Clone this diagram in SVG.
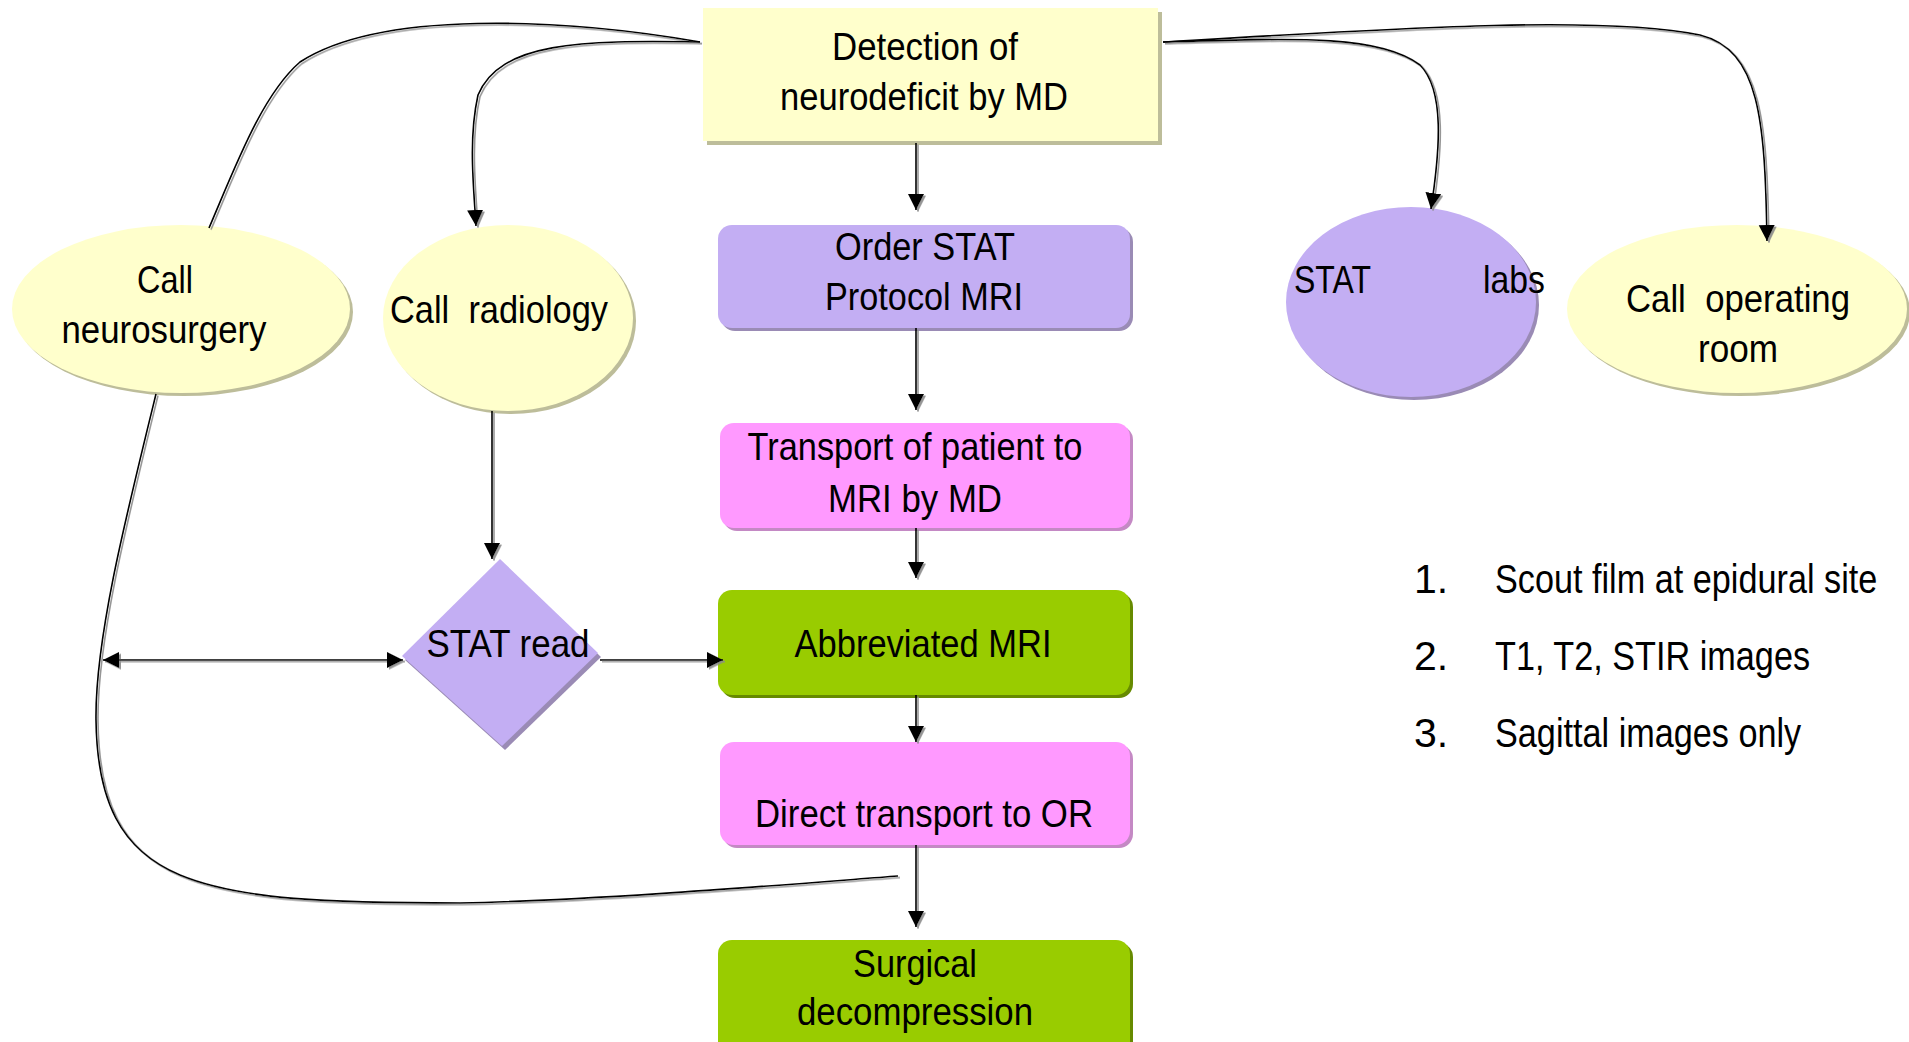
<svg xmlns="http://www.w3.org/2000/svg" width="1909" height="1042" viewBox="0 0 1909 1042">
<style>
text{font-family:"Liberation Sans Narrow","Liberation Sans",Arial,sans-serif;font-size:39px;fill:#000}
.lst text{font-size:41px}
.yel{fill:#FFFFCC}.yel-s{fill:#BDBD9A}
.pur{fill:#C3AEF3}.pur-s{fill:#9A8BB5}
.pnk{fill:#FF99FF}.pnk-s{fill:#C489C4}
.grn{fill:#99CC00}.grn-s{fill:#668A00}
.con path{fill:none;stroke:#000;stroke-width:1.6}
</style>
<defs>
<marker id="ah" markerUnits="userSpaceOnUse" markerWidth="18" markerHeight="18" refX="16" refY="8" orient="auto-start-reverse">
<path d="M0,0 L16,8 L0,16 z" fill="#000"/>
</marker>
<filter id="lsh" x="-5%" y="-5%" width="110%" height="110%">
<feDropShadow dx="2" dy="1.6" stdDeviation="0.5" flood-color="#8a8a8a" flood-opacity="0.9"/>
</filter>
</defs>
<rect width="1909" height="1042" fill="#fff"/>

<g id="n-detection">
<rect class="yel-s" x="707" y="12" width="455" height="133"/>
<rect class="yel" x="703" y="8" width="455" height="133"/>
<text x="925" y="60" text-anchor="middle" textLength="186" lengthAdjust="spacingAndGlyphs">Detection of</text>
<text x="924" y="110" text-anchor="middle" textLength="288" lengthAdjust="spacingAndGlyphs">neurodeficit by MD</text>
</g>

<g id="n-neurosurgery">
<ellipse class="yel-s" cx="184" cy="312" rx="169" ry="84"/>
<ellipse class="yel" cx="181" cy="309" rx="169" ry="84"/>
<text x="165" y="293" text-anchor="middle" textLength="56" lengthAdjust="spacingAndGlyphs">Call</text>
<text x="164" y="343" text-anchor="middle" textLength="205" lengthAdjust="spacingAndGlyphs">neurosurgery</text>
</g>

<g id="n-radiology">
<ellipse class="yel-s" cx="511" cy="321" rx="125" ry="93"/>
<ellipse class="yel" cx="508" cy="318" rx="125" ry="93"/>
<text x="499" y="323" text-anchor="middle" xml:space="preserve" textLength="218" lengthAdjust="spacingAndGlyphs">Call  radiology</text>
</g>

<g id="n-statlabs">
<ellipse class="pur-s" cx="1414" cy="305" rx="125" ry="95"/>
<ellipse class="pur" cx="1411" cy="302" rx="125" ry="95"/>
<text y="293"><tspan x="1294" textLength="77" lengthAdjust="spacingAndGlyphs">STAT</tspan><tspan x="1483" textLength="62" lengthAdjust="spacingAndGlyphs">labs</tspan></text>
</g>

<g id="n-operating">
<ellipse class="yel-s" cx="1740" cy="312" rx="170" ry="84"/>
<ellipse class="yel" cx="1737" cy="309" rx="170" ry="84"/>
<text x="1738" y="312" text-anchor="middle" xml:space="preserve" textLength="224" lengthAdjust="spacingAndGlyphs">Call  operating</text>
<text x="1738" y="362" text-anchor="middle" textLength="80" lengthAdjust="spacingAndGlyphs">room</text>
</g>

<g id="n-order">
<rect class="pur-s" x="721" y="228" width="412" height="103" rx="14"/>
<rect class="pur" x="718" y="225" width="412" height="103" rx="14"/>
<text x="925" y="260" text-anchor="middle" textLength="180" lengthAdjust="spacingAndGlyphs">Order STAT</text>
<text x="924" y="310" text-anchor="middle" textLength="198" lengthAdjust="spacingAndGlyphs">Protocol MRI</text>
</g>

<g id="n-transport">
<rect class="pnk-s" x="723" y="426" width="410" height="105" rx="14"/>
<rect class="pnk" x="720" y="423" width="410" height="105" rx="14"/>
<text x="915" y="460" text-anchor="middle" textLength="335" lengthAdjust="spacingAndGlyphs">Transport of patient to</text>
<text x="915" y="512" text-anchor="middle" textLength="174" lengthAdjust="spacingAndGlyphs">MRI by MD</text>
</g>

<g id="n-statread">
<polygon class="pur-s" points="503,563 601,657 505,750 405,660"/>
<polygon class="pur" points="500,559 598,653 502,746 402,656"/>
<text x="508" y="657" text-anchor="middle" textLength="163" lengthAdjust="spacingAndGlyphs">STAT read</text>
</g>

<g id="n-abbreviated">
<rect class="grn-s" x="721" y="593" width="412" height="105" rx="14"/>
<rect class="grn" x="718" y="590" width="412" height="105" rx="14"/>
<text x="923" y="657" text-anchor="middle" textLength="257" lengthAdjust="spacingAndGlyphs">Abbreviated MRI</text>
</g>

<g id="n-direct">
<rect class="pnk-s" x="723" y="745" width="410" height="103" rx="14"/>
<rect class="pnk" x="720" y="742" width="410" height="103" rx="14"/>
<text x="924" y="827" text-anchor="middle" textLength="338" lengthAdjust="spacingAndGlyphs">Direct transport to OR</text>
</g>

<g id="n-surgical">
<rect class="grn-s" x="721" y="943" width="412" height="130" rx="14"/>
<rect class="grn" x="718" y="940" width="412" height="130" rx="14"/>
<text x="915" y="977" text-anchor="middle" textLength="124" lengthAdjust="spacingAndGlyphs">Surgical</text>
<text x="915" y="1025" text-anchor="middle" textLength="236" lengthAdjust="spacingAndGlyphs">decompression</text>
</g>

<g id="list" class="lst">
<text x="1414" y="593">1.</text>
<text transform="translate(1495,593) scale(0.835,1)">Scout film at epidural site</text>
<text x="1414" y="670">2.</text>
<text transform="translate(1495,670) scale(0.835,1)">T1, T2, STIR images</text>
<text x="1414" y="747">3.</text>
<text transform="translate(1495,747) scale(0.835,1)">Sagittal images only</text>
</g>

<g id="connectors" class="con" filter="url(#lsh)">
<path id="c-det-neuro" d="M700,42 C560,18 380,10 300,62 C262,95 236,165 209,228"/>
<path id="c-det-rad" d="M700,42 C580,40 500,42 478,95 C468,140 474,190 476,226" marker-end="url(#ah)"/>
<path id="c-det-labs" d="M1163,42 C1300,38 1380,35 1420,65 C1445,90 1440,150 1431,209" marker-end="url(#ah)"/>
<path id="c-det-or" d="M1163,42 C1400,28 1600,15 1700,35 C1760,50 1765,120 1767,241" marker-end="url(#ah)"/>
<path id="c-neuro-loop" d="M156,394 C125,520 95,640 96,720 C97,800 120,850 180,875 C240,900 330,903 460,903 C600,900 780,885 898,876"/>
<path id="c-loop-read" d="M103,660 L403,660" marker-start="url(#ah)" marker-end="url(#ah)"/>
<path id="c-read-abbr" d="M600,660 L723,660" marker-end="url(#ah)"/>
<path id="c-rad-read" d="M492,411 L492,559" marker-end="url(#ah)"/>
<path id="c-det-order" d="M916,143 L916,210" marker-end="url(#ah)"/>
<path id="c-order-trans" d="M916,328 L916,410" marker-end="url(#ah)"/>
<path id="c-trans-abbr" d="M916,528 L916,578" marker-end="url(#ah)"/>
<path id="c-abbr-direct" d="M916,695 L916,742" marker-end="url(#ah)"/>
<path id="c-direct-surg" d="M916,845 L916,927" marker-end="url(#ah)"/>
</g>
</svg>
